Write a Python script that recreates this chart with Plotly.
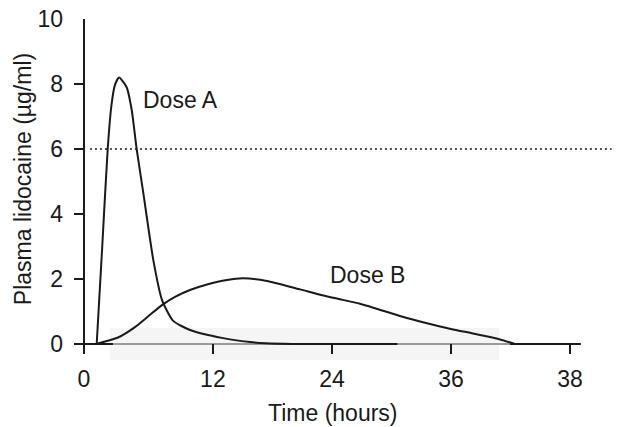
import plotly.graph_objects as go

# ---- data (time in hours, concentration in µg/ml) ----
dose_a_t = [1.28, 1.84, 2.39, 2.75, 3.1, 3.53, 4.30, 4.81, 5.31, 5.98, 6.99,
            7.87, 8.97, 10.69, 14.02, 16.74, 18.3, 21.0, 25.0, 28.5, 31.6]
dose_a_c = [0, 3.0, 6.0, 7.3, 7.95, 8.2, 7.9, 7.2, 6.0, 4.65, 2.58,
            1.35, 0.72, 0.43, 0.18, 0.06, 0.02, 0, 0, 0, 0]

dose_b_t = [1.21, 3.43, 5.14, 6.66, 7.97, 9.18, 10.69, 12.4, 14.42, 16.03, 18.45,
            21.78, 25.11, 27.83, 32.57, 35.9, 39.23, 41.95, 43.46]
dose_b_c = [0, 0.2, 0.52, 0.9, 1.22, 1.45, 1.66, 1.83, 1.97, 2.02, 1.94,
            1.68, 1.42, 1.24, 0.8, 0.54, 0.32, 0.14, 0]

toxic_level = 6
x_tick_vals = [0, 13, 25, 37, 49]
x_tick_text = ["0", "12", "24", "36", "38"]
y_tick_vals = [0, 2, 4, 6, 8, 10]

FONT = "Liberation Sans, Arial, sans-serif"
INK = "#1a1a1a"
FS = 23

fig = go.Figure()
line_style = dict(color=INK, width=2, shape="spline", smoothing=0.6)
fig.add_trace(go.Scatter(x=dose_a_t, y=dose_a_c, mode="lines", line=line_style,
                         name="Dose A", showlegend=False, hoverinfo="skip"))
fig.add_trace(go.Scatter(x=dose_b_t, y=dose_b_c, mode="lines", line=line_style,
                         name="Dose B", showlegend=False, hoverinfo="skip"))

shapes = [
    # faint scan band near the baseline
    dict(type="rect", xref="paper", yref="paper", x0=0.067, x1=0.79, y0=-0.018, y1=0.078,
         fillcolor="#f5f5f5", line=dict(width=0), layer="below"),
    # y-axis line
    dict(type="line", xref="x", yref="y", x0=0, x1=0, y0=-0.308, y1=10,
         line=dict(color=INK, width=2), layer="below"),
    # x-axis baseline (lighter where the scan band lies)
    dict(type="line", xref="x", yref="y", x0=-1.0, x1=2.92, y0=0, y1=0,
         line=dict(color=INK, width=2), layer="below"),
    dict(type="line", xref="x", yref="y", x0=2.92, x1=42.96, y0=0, y1=0,
         line=dict(color="#9a9a9a", width=2), layer="below"),
    dict(type="line", xref="x", yref="y", x0=42.96, x1=50.1, y0=0, y1=0,
         line=dict(color=INK, width=2), layer="below"),
    # toxic threshold dotted line
    dict(type="line", xref="x", yref="y", x0=0.6, x1=53.2, y0=toxic_level, y1=toxic_level,
         line=dict(color=INK, width=1.5, dash="2px,3px")),
]

annotations = [
    dict(text="Dose A", x=9.68, y=7.5, xref="x", yref="y", showarrow=False,
         font=dict(family=FONT, size=FS, color=INK)),
    dict(text="Dose B", x=28.6, y=2.12, xref="x", yref="y", showarrow=False,
         font=dict(family=FONT, size=FS, color=INK)),
    dict(text="Time (hours)", x=0.4805, y=-0.176, xref="paper", yref="paper",
         showarrow=False, xanchor="center", yanchor="middle",
         font=dict(family=FONT, size=FS, color=INK)),
    dict(text="Plasma lidocaine (µg/ml)", x=-0.0948, y=0.522, xref="paper", yref="paper",
         showarrow=False, textangle=-90, xanchor="center", yanchor="middle",
         font=dict(family=FONT, size=FS, color=INK)),
]

fig.update_layout(
    width=619, height=427, autosize=False,
    margin=dict(l=74, r=7, t=19, b=73, pad=0),
    paper_bgcolor="white", plot_bgcolor="white",
    shapes=shapes, annotations=annotations,
    font=dict(family=FONT, size=FS, color=INK),
    xaxis=dict(range=[-1.008, 53.24], showgrid=False, zeroline=False, showline=False,
               ticks="inside", ticklen=10, tickwidth=2, tickcolor=INK,
               tickvals=x_tick_vals, ticktext=x_tick_text, ticklabelstandoff=9,
               tickfont=dict(family=FONT, size=FS, color=INK), fixedrange=True),
    yaxis=dict(range=[-0.308, 10], showgrid=False, zeroline=False, showline=False,
               ticks="inside", ticklen=10, tickwidth=2, tickcolor=INK,
               tickvals=y_tick_vals, ticklabelstandoff=10,
               tickfont=dict(family=FONT, size=FS, color=INK), fixedrange=True),
)

fig.write_html("out.html", config={"displayModeBar": False},
               post_script="document.body.style.margin='0px';document.body.style.overflow='hidden';")
